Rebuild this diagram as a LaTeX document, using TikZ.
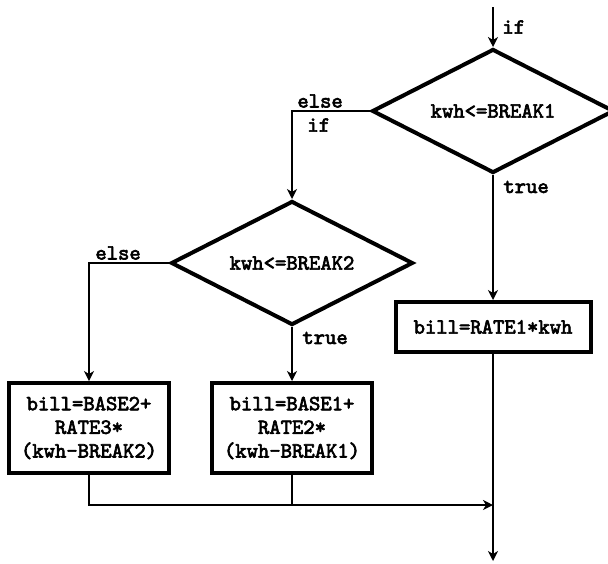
\documentclass[tikz,border=0pt]{standalone}
\usepackage{fontspec}
\usepackage{tikz}
\usetikzlibrary{arrows.meta,shapes.geometric,positioning,calc}
\newfontfamily\monobold[FakeBold=3]{Latin Modern Mono}
\newcommand{\cf}{\monobold\fontsize{10.8}{11.8}\selectfont}
\tikzset{
  decision/.style={diamond, aspect=2, draw=black, line width=2pt, minimum width=121pt,
                   minimum height=62pt, inner sep=0pt, font=\cf},
  procbox/.style={rectangle, draw=black, line width=2pt, align=center, inner sep=0pt, font=\cf},
  lbl/.style={font=\cf, inner sep=0pt},
  flow/.style={-{Stealth[length=5pt,width=5pt,inset=1.5pt]}, draw=black, line width=0.75pt},
  joinline/.style={draw=black, line width=0.75pt},
}
\begin{document}
\begin{tikzpicture}[x=0.5pt,y=-0.5pt]
\useasboundingbox (0,0) rectangle (608,563);
\coordinate (start) at (493,7);
\node[decision] (cond1) at (493,111) {kwh<=BREAK1};
\node[decision] (cond2) at (292,263) {kwh<=BREAK2};
\node[procbox, minimum width=97.5pt, minimum height=25pt] (rate1) at (493,327) {bill=RATE1*kwh};
\node[procbox, minimum width=80pt, minimum height=45pt] (rate2) at (292,428)
 {bill=BASE1+\\RATE2*\\(kwh-BREAK1)};
\node[procbox, minimum width=80pt, minimum height=45pt] (rate3) at (89,428)
 {bill=BASE2+\\RATE3*\\(kwh-BREAK2)};
\coordinate (merge) at (493,505);
\coordinate (finish) at (493,561);

\draw[flow] (start) -- (cond1.north);
\node[lbl, anchor=west] (ifin) at (502,27) {if};
\draw[flow] (cond1.west) -| (cond2.north);
\node[lbl, anchor=west] (else1) at (297,101) {else};
\node[lbl, anchor=west] (if2) at (307,125) {if};
\draw[flow] (cond1.south) -- (rate1.north);
\node[lbl, anchor=west] (true1) at (503,187) {true};
\draw[flow] (rate1.south) -- (finish);
\draw[flow] (cond2.west) -| (rate3.north);
\node[lbl, anchor=west] (else2) at (95,253) {else};
\draw[flow] (cond2.south) -- (rate2.north);
\node[lbl, anchor=west] (true2) at (302,338) {true};
\draw[flow] (rate3.south) |- (merge);
\draw[joinline] (rate2.south) -- (rate2.south |- merge);
\end{tikzpicture}
\end{document}
